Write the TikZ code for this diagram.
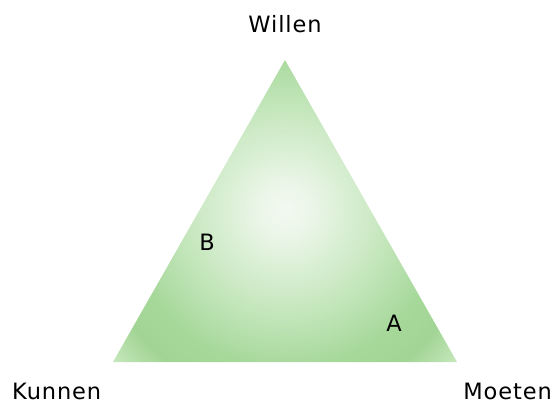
\documentclass[tikz,border=0pt]{standalone}
\usepackage{fontspec}
\newfontfamily\labfont[LetterSpace=4]{DejaVu Sans}
\definecolor{gA}{RGB}{243,249,241}
\definecolor{gB}{RGB}{234,245,231}
\definecolor{gC}{RGB}{200,232,192}
\definecolor{gD}{RGB}{166,216,154}
\definecolor{gE}{RGB}{162,213,149}
\definecolor{gF}{RGB}{200,232,190}
\definecolor{gG}{RGB}{206,235,197}
\pgfdeclareradialshading{trishade}{\pgfpoint{0bp}{0bp}}{color(0bp)=(gA); color(3bp)=(gB); color(10bp)=(gC); color(16.5bp)=(gD); color(20bp)=(gE); color(24bp)=(gF); color(25bp)=(gG); color(50bp)=(gG)}
\tikzset{lab/.style={inner sep=0pt, font=\labfont\fontsize{22.5pt}{27pt}\selectfont, text=black}}
\begin{document}
\begin{tikzpicture}[x=1pt,y=-1pt]
\useasboundingbox (0,0) rectangle (556,403);
\coordinate (top) at (285,60);
\coordinate (bl) at (113,362);
\coordinate (br) at (457,362);
\begin{scope}
\clip (top) -- (br) -- (bl) -- cycle;
\shade[shading=trishade] (285,210) circle (240pt);
\end{scope}
\node[lab, anchor=base] (willen) at (285,32.7) {Willen};
\node[lab, anchor=base west] (kunnen) at (12,399) {Kunnen};
\node[lab, anchor=base east] (moeten) at (552,399) {Moeten};
\node[lab, anchor=base] (b) at (207,250) {B};
\node[lab, anchor=base] (a) at (394,331.5) {A};
\end{tikzpicture}
\end{document}
